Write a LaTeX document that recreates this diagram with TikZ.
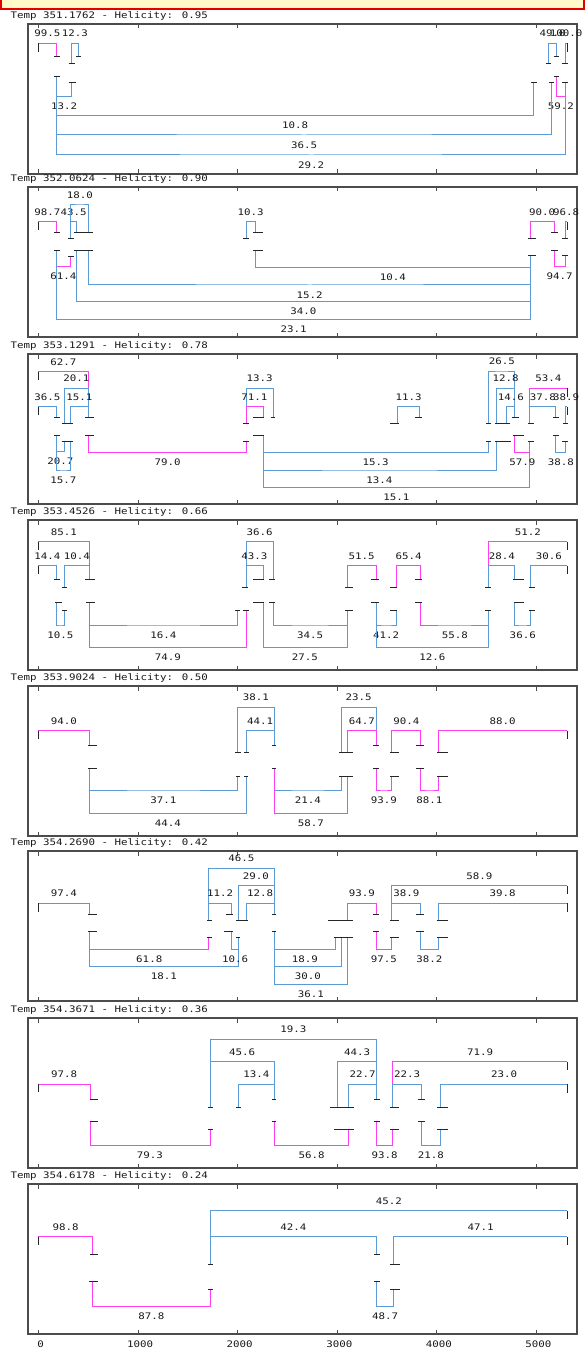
\documentclass[tikz,border=0pt]{standalone}
\usepackage{fontspec}
\newfontfamily\plotfont[FakeStretch=1.2]{DejaVu Sans Mono}
\definecolor{plotblue}{HTML}{5B9BD5}
\definecolor{plotpink}{HTML}{FF3DF2}
\definecolor{bannerfill}{HTML}{FFFAC8}

\begin{document}
\begin{tikzpicture}[
  x=1pt,
  y=-1pt,
  every node/.style={font=\plotfont\fontsize{9}{10}\selectfont, inner sep=0pt, text=black!90},
  frame/.style={draw=black!70, line width=1.2pt},
  axtick/.style={draw=black!70, line width=0.8pt},
  title/.style={anchor=base west},
  panel/.style={x=0.37313pt, y=-0.33333pt},
  pinkarc/.style={draw=plotpink, line width=1pt},
  bluearc/.style={draw=plotblue, line width=1pt},
  lbu/.style={above=6pt},
  lbd/.style={below=6pt},
  leaf/.style={draw=black!85, line width=0.9pt}
]
\useasboundingbox (0,0) rectangle (585,1351);

% frames, ticks and titles
\foreach \ytop/\tval/\hval in {24/351.1762/0.95, 187/352.0624/0.90, 354/353.1291/0.78, 520/353.4526/0.66,
                               686/353.9024/0.50, 851/354.2690/0.42, 1018/354.3671/0.36, 1184/354.6178/0.24} {
  \draw[frame] (28,\ytop) rectangle (577,\ytop+150);
  \foreach \t in {0,...,5}
    \draw[axtick] (38.4+99.56*\t,\ytop) -- ++(0,4.5) (38.4+99.56*\t,\ytop+150) -- ++(0,-4.5);
  \node[title] at (10.4,\ytop-5.7) {Temp \tval{} - Helicity: \hval};
}
\foreach \t in {0,...,5}
  \node[anchor=base] at (40.6+99.56*\t,1347.3) {\pgfmathparse{int(1000*\t)}\pgfmathresult};

% banner
\draw[red!90!black, fill=bannerfill, line width=1.6pt] (0.8,-3) rectangle (584.2,8.8);

% 351.1762
\begin{scope}[panel]
\draw[pinkarc] (103,130) |- (127,130) node[lbu]{99.5} -| (152,170);
\draw[bluearc] (192,190) |- (201,130) node[lbu]{12.3} -| (210,170);
\draw[bluearc] (1470,190) |- (1481,130) node[lbu]{49.0} -| (1492,170);
\draw[pinkarc] (1515,190) |- (1517,130) node[lbu]{100.0} -| (1520,130);
\draw[bluearc] (152,228) |- (172,290) node[lbd]{13.2} -| (192,248);
\draw[pinkarc] (1492,228) |- (1503,290) node[lbd]{59.2} -| (1515,248);
\draw[bluearc] (152,228) |- (791,347) node[lbd]{10.8} -| (1430,248);
\draw[bluearc] (152,228) |- (815,405) node[lbd]{36.5} -| (1478,248);
\draw[bluearc] (152,228) |- (834,465) node[lbd]{29.2} -| (1515,248);
\foreach \a/\b/\y in {146/160/170, 184/200/190, 204/218/170, 1463/1478/190, 1485/1499/170, 1507/1521/190,
                      146/160/228, 184/204/248, 1423/1438/248, 1471/1486/248, 1485/1499/228, 1507/1521/248}
  \draw[leaf] (\a,\y) -- (\b,\y);
\foreach \x/\h in {103/130, 1520/130}
  \draw[leaf] (\x,\h) -- (\x,\h+25);
\end{scope}

% 352.0624
\begin{scope}[panel, yshift=-165pt]
\draw[pinkarc] (103,170) |- (127,170) node[lbu]{98.7} -| (152,203);
\draw[bluearc] (189,220) |- (197,170) node[lbu]{43.5} -| (205,203);
\draw[bluearc] (189,220) |- (214,120) node[lbu]{18.0} -| (238,203);
\draw[bluearc] (660,220) |- (672,170) node[lbu]{10.3} -| (685,203);
\draw[pinkarc] (1422,220) |- (1453,170) node[lbu]{90.0} -| (1485,203);
\draw[pinkarc] (1515,220) |- (1517,170) node[lbu]{96.8} -| (1520,170);
\draw[pinkarc] (152,255) |- (170,305) node[lbd]{61.4} -| (189,273);
\draw[bluearc] (685,255) |- (1053,308) node[lbd]{10.4} -| (1422,272);
\draw[bluearc] (238,255) |- (830,360) node[lbd]{15.2} -| (1422,272);
\draw[bluearc] (205,255) |- (813,410) node[lbd]{34.0} -| (1422,272);
\draw[bluearc] (152,255) |- (787,463) node[lbd]{23.1} -| (1422,272);
\draw[pinkarc] (1485,255) |- (1500,305) node[lbd]{94.7} -| (1515,272);
\foreach \a/\b/\y in {145/160/203, 182/197/220, 198/250/203, 652/668/220, 678/705/203, 1416/1436/220, 1478/1495/203, 1507/1521/220,
                      145/160/255, 182/197/273, 198/250/255, 678/705/255, 1416/1436/272, 1478/1495/255, 1507/1521/272}
  \draw[leaf] (\a,\y) -- (\b,\y);
\foreach \x/\h in {103/170, 1520/170}
  \draw[leaf] (\x,\h) -- (\x,\h+25);
\end{scope}

% 353.1291
\begin{scope}[panel, yshift=-335pt]
\draw[pinkarc] (103,110) |- (170,110) node[lbu]{62.7} -| (238,247);
\draw[bluearc] (172,265) |- (205,160) node[lbu]{20.1} -| (238,247);
\draw[bluearc] (103,215) |- (127,215) node[lbu]{36.5} -| (152,247);
\draw[bluearc] (188,265) |- (213,215) node[lbu]{15.1} -| (238,247);
\draw[bluearc] (660,265) |- (696,160) node[lbu]{13.3} -| (732,247);
\draw[pinkarc] (660,265) |- (682,215) node[lbu]{71.1} -| (705,247);
\draw[bluearc] (1065,265) |- (1095,215) node[lbu]{11.3} -| (1125,247);
\draw[bluearc] (1310,265) |- (1345,108) node[lbu]{26.5} -| (1380,247);
\draw[bluearc] (1330,265) |- (1355,160) node[lbu]{12.8} -| (1380,247);
\draw[bluearc] (1358,265) |- (1369,215) node[lbu]{14.6} -| (1380,247);
\draw[pinkarc] (1420,265) |- (1470,160) node[lbu]{53.4} -| (1520,160);
\draw[bluearc] (1420,265) |- (1455,215) node[lbu]{37.8} -| (1490,247);
\draw[bluearc] (1515,265) |- (1517,215) node[lbu]{38.9} -| (1520,215);
\draw[bluearc] (152,300) |- (162,350) node[lbd]{20.7} -| (172,318);
\draw[bluearc] (152,300) |- (170,405) node[lbd]{15.7} -| (188,318);
\draw[pinkarc] (238,300) |- (449,352) node[lbd]{79.0} -| (660,318);
\draw[bluearc] (705,300) |- (1007,352) node[lbd]{15.3} -| (1310,318);
\draw[bluearc] (705,300) |- (1017,405) node[lbd]{13.4} -| (1330,318);
\draw[bluearc] (705,300) |- (1062,457) node[lbd]{15.1} -| (1420,318);
\draw[pinkarc] (1380,300) |- (1400,352) node[lbd]{57.9} -| (1420,318);
\draw[bluearc] (1490,300) |- (1503,352) node[lbd]{38.8} -| (1515,318);
\foreach \a/\b/\y in {145/160/247, 165/195/265, 228/252/247, 652/668/265, 678/708/247, 725/738/247, 1045/1068/265,
                      1112/1130/247, 1302/1316/265, 1326/1368/265, 1372/1390/247, 1414/1432/265, 1483/1497/247, 1508/1521/265,
                      145/160/300, 165/195/318, 228/252/300, 652/666/318, 678/708/300, 1302/1316/318, 1326/1370/318,
                      1375/1405/300, 1414/1432/318, 1483/1497/300, 1507/1521/318}
  \draw[leaf] (\a,\y) -- (\b,\y);
\foreach \x/\h in {103/110, 103/215, 1520/160, 1520/215}
  \draw[leaf] (\x,\h) -- (\x,\h+25);
\end{scope}

% 353.4526
\begin{scope}[panel, yshift=-500pt]
\draw[pinkarc] (103,125) |- (171,125) node[lbu]{85.1} -| (240,237);
\draw[bluearc] (103,197) |- (127,197) node[lbu]{14.4} -| (152,237);
\draw[bluearc] (172,262) |- (206,197) node[lbu]{10.4} -| (240,237);
\draw[bluearc] (660,262) |- (696,125) node[lbu]{36.6} -| (732,237);
\draw[bluearc] (660,262) |- (682,197) node[lbu]{43.3} -| (705,237);
\draw[pinkarc] (930,262) |- (969,197) node[lbu]{51.5} -| (1008,237);
\draw[pinkarc] (1063,262) |- (1095,197) node[lbu]{65.4} -| (1128,237);
\draw[pinkarc] (1310,262) |- (1415,125) node[lbu]{51.2} -| (1520,125);
\draw[bluearc] (1310,262) |- (1345,197) node[lbu]{28.4} -| (1380,237);
\draw[bluearc] (1422,262) |- (1471,197) node[lbu]{30.6} -| (1520,197);
\draw[bluearc] (152,308) |- (162,375) node[lbd]{10.5} -| (172,330);
\draw[bluearc] (240,308) |- (438,375) node[lbd]{16.4} -| (637,330);
\draw[pinkarc] (240,308) |- (450,443) node[lbd]{74.9} -| (660,330);
\draw[bluearc] (732,308) |- (831,375) node[lbd]{34.5} -| (930,330);
\draw[bluearc] (705,308) |- (817,443) node[lbd]{27.5} -| (930,330);
\draw[bluearc] (1008,308) |- (1035,375) node[lbd]{41.2} -| (1063,330);
\draw[pinkarc] (1128,308) |- (1219,375) node[lbd]{55.8} -| (1310,330);
\draw[bluearc] (1008,308) |- (1159,443) node[lbd]{12.6} -| (1310,330);
\draw[bluearc] (1380,308) |- (1401,375) node[lbd]{36.6} -| (1422,330);
\foreach \a/\b/\y in {145/162/237, 165/180/262, 228/255/237, 648/665/262, 678/708/237, 722/737/237, 925/945/262,
                      995/1015/237, 1045/1065/262, 1112/1130/237, 1300/1316/262, 1375/1405/237, 1418/1435/262,
                      148/165/308, 165/180/330, 230/255/308, 630/642/330, 652/666/330, 678/708/308, 722/737/308,
                      925/945/330, 993/1015/308, 1045/1065/330, 1112/1130/308, 1300/1316/330, 1378/1405/308, 1418/1435/330}
  \draw[leaf] (\a,\y) -- (\b,\y);
\foreach \x/\h in {103/125, 103/197, 1520/125, 1520/197}
  \draw[leaf] (\x,\h) -- (\x,\h+25);
\end{scope}

% 353.9024
\begin{scope}[panel, yshift=-670pt]
\draw[pinkarc] (103,182) |- (171,182) node[lbu]{94.0} -| (240,225);
\draw[bluearc] (637,248) |- (686,112) node[lbu]{38.1} -| (735,225);
\draw[bluearc] (660,248) |- (697,182) node[lbu]{44.1} -| (735,225);
\draw[bluearc] (915,248) |- (961,112) node[lbu]{23.5} -| (1008,225);
\draw[pinkarc] (932,248) |- (970,182) node[lbu]{64.7} -| (1008,225);
\draw[pinkarc] (1050,248) |- (1089,182) node[lbu]{90.4} -| (1128,225);
\draw[pinkarc] (1175,248) |- (1347,182) node[lbu]{88.0} -| (1520,182);
\draw[bluearc] (240,295) |- (438,360) node[lbd]{37.1} -| (637,318);
\draw[bluearc] (240,295) |- (450,430) node[lbd]{44.4} -| (660,318);
\draw[bluearc] (735,295) |- (825,360) node[lbd]{21.4} -| (915,318);
\draw[pinkarc] (735,295) |- (833,430) node[lbd]{58.7} -| (932,318);
\draw[pinkarc] (1008,295) |- (1029,360) node[lbd]{93.9} -| (1050,318);
\draw[pinkarc] (1128,295) |- (1151,360) node[lbd]{88.1} -| (1175,318);
\foreach \a/\b/\y in {235/260/225, 630/645/248, 653/667/248, 728/740/225, 908/945/248, 1000/1015/225, 1045/1070/248,
                      1115/1135/225, 1172/1200/248,
                      235/260/295, 632/642/318, 655/665/318, 728/740/295, 908/945/318, 1000/1015/295, 1045/1070/318,
                      1115/1135/295, 1172/1200/318}
  \draw[leaf] (\a,\y) -- (\b,\y);
\foreach \x/\h in {103/182, 1520/182}
  \draw[leaf] (\x,\h) -- (\x,\h+25);
\end{scope}

% 354.2690
\begin{scope}[panel, yshift=-835pt]
\draw[pinkarc] (103,205) |- (171,205) node[lbu]{97.4} -| (240,238);
\draw[bluearc] (560,255) |- (647,100) node[lbu]{46.5} -| (735,238);
\draw[bluearc] (638,255) |- (686,152) node[lbu]{29.0} -| (735,238);
\draw[bluearc] (560,255) |- (590,205) node[lbu]{11.2} -| (621,238);
\draw[bluearc] (660,255) |- (697,205) node[lbu]{12.8} -| (735,238);
\draw[pinkarc] (932,255) |- (970,205) node[lbu]{93.9} -| (1008,238);
\draw[pinkarc] (1050,255) |- (1285,152) node[lbu]{58.9} -| (1520,152);
\draw[bluearc] (1050,255) |- (1089,205) node[lbu]{38.9} -| (1128,238);
\draw[bluearc] (1175,255) |- (1347,205) node[lbu]{39.8} -| (1520,205);
\draw[pinkarc] (240,288) |- (400,343) node[lbd]{61.8} -| (560,308);
\draw[bluearc] (240,288) |- (439,395) node[lbd]{18.1} -| (638,308);
\draw[bluearc] (621,288) |- (630,343) node[lbd]{10.6} -| (638,308);
\draw[bluearc] (735,288) |- (817,343) node[lbd]{18.9} -| (900,308);
\draw[bluearc] (735,288) |- (825,395) node[lbd]{30.0} -| (915,308);
\draw[bluearc] (735,288) |- (833,448) node[lbd]{36.1} -| (932,308);
\draw[pinkarc] (1008,288) |- (1029,343) node[lbd]{97.5} -| (1050,308);
\draw[bluearc] (1128,288) |- (1151,343) node[lbd]{38.2} -| (1175,308);
\foreach \a/\b/\y in {235/260/238, 555/568/255, 605/625/238, 632/665/255, 728/740/238, 880/945/255, 1000/1015/238,
                      1045/1070/255, 1115/1135/238, 1170/1200/255,
                      235/260/288, 600/625/288, 555/568/308, 632/642/308, 728/740/288, 895/945/308, 1000/1015/288,
                      1045/1070/308, 1115/1135/288, 1170/1200/308}
  \draw[leaf] (\a,\y) -- (\b,\y);
\foreach \x/\h in {103/205, 1520/152, 1520/205}
  \draw[leaf] (\x,\h) -- (\x,\h+25);
\end{scope}

% 354.3671
\begin{scope}[panel, yshift=-1000pt]
\draw[pinkarc] (103,252) |- (172,252) node[lbu]{97.8} -| (242,298);
\draw[bluearc] (563,322) |- (786,117) node[lbu]{19.3} -| (1010,298);
\draw[bluearc] (563,322) |- (649,185) node[lbu]{45.6} -| (735,298);
\draw[bluearc] (905,322) |- (957,185) node[lbu]{44.3} -| (1010,298);
\draw[bluearc] (640,322) |- (687,253) node[lbu]{13.4} -| (735,298);
\draw[bluearc] (935,322) |- (972,253) node[lbu]{22.7} -| (1010,298);
\draw[pinkarc] (1053,322) |- (1287,185) node[lbu]{71.9} -| (1520,185);
\draw[bluearc] (1053,322) |- (1091,253) node[lbu]{22.3} -| (1130,298);
\draw[bluearc] (1180,322) |- (1351,253) node[lbu]{23.0} -| (1520,253);
\draw[pinkarc] (242,365) |- (402,435) node[lbd]{79.3} -| (563,388);
\draw[pinkarc] (735,365) |- (835,435) node[lbd]{56.8} -| (935,388);
\draw[pinkarc] (1010,365) |- (1031,435) node[lbd]{93.8} -| (1053,388);
\draw[bluearc] (1130,365) |- (1155,435) node[lbd]{21.8} -| (1180,388);
\foreach \a/\b/\y in {240/262/298, 558/570/322, 633/645/322, 728/740/298, 885/948/322, 1003/1018/298, 1045/1070/322,
                      1120/1140/298, 1172/1200/322,
                      240/262/365, 558/570/388, 728/740/365, 895/948/388, 1003/1018/365, 1045/1070/388,
                      1120/1140/365, 1172/1200/388}
  \draw[leaf] (\a,\y) -- (\b,\y);
\foreach \x/\h in {103/252, 1520/185, 1520/253}
  \draw[leaf] (\x,\h) -- (\x,\h+25);
\end{scope}

% 354.6178
\begin{scope}[panel, yshift=-1170pt]
\draw[pinkarc] (103,200) |- (176,200) node[lbu]{98.8} -| (249,252);
\draw[bluearc] (563,282) |- (1042,122) node[lbu]{45.2} -| (1520,122);
\draw[bluearc] (563,282) |- (786,200) node[lbu]{42.4} -| (1010,252);
\draw[bluearc] (1055,282) |- (1288,200) node[lbu]{47.1} -| (1520,200);
\draw[pinkarc] (249,333) |- (406,410) node[lbd]{87.8} -| (563,358);
\draw[bluearc] (1010,333) |- (1032,410) node[lbd]{48.7} -| (1055,358);
\foreach \a/\b/\y in {240/262/252, 557/571/282, 1003/1018/252, 1045/1072/282,
                      238/262/333, 557/570/358, 1002/1018/333, 1045/1072/358}
  \draw[leaf] (\a,\y) -- (\b,\y);
\foreach \x/\h in {103/200, 1520/122, 1520/200}
  \draw[leaf] (\x,\h) -- (\x,\h+25);
\end{scope}
\end{tikzpicture}
\end{document}
